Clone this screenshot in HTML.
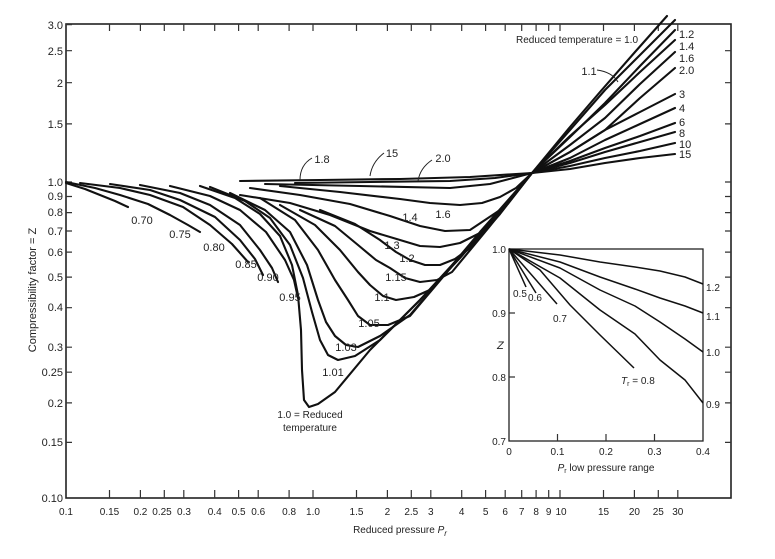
<!DOCTYPE html>
<html><head><meta charset="utf-8"><style>
html,body{margin:0;padding:0;background:#fff;}
svg{display:block;font-family:"Liberation Sans",sans-serif;}
text{fill:#222;}
</style></head><body>
<svg width="775" height="559" viewBox="0 0 775 559" xmlns="http://www.w3.org/2000/svg">
<g stroke="#222" fill="none">
<rect x="66" y="24" width="665" height="474" stroke-width="1.6"/>
<rect x="509" y="249" width="194" height="192" stroke-width="1.3"/>
</g>
<g stroke="#333" stroke-width="1.2">
<path d="M66 24.6h6M66 50.7h6M66 82.7h6M66 123.9h6M66 182h6M66 196.5h6M66 212.6h6M66 231h6M66 252.1h6M66 277.1h6M66 307.7h6M66 347.2h6M66 372.2h6M66 402.9h6M66 442.4h6"/>
<path d="M725 50.7h6M725 82.7h6M725 123.9h6M725 182h6M725 196.5h6M725 212.6h6M725 231h6M725 252.1h6M725 277.1h6M725 307.7h6M725 347.2h6M725 372.2h6M725 402.9h6M725 442.4h6"/>
<path d="M109.5 498v-8M140.4 498v-8M164.3 498v-8M183.8 498v-8M214.7 498v-8M238.6 498v-8M258.2 498v-8M289.1 498v-8M313 498v-8M356.5 498v-8M387.4 498v-8M411.3 498v-8M430.8 498v-8M461.7 498v-8M485.6 498v-8M505.2 498v-8M521.7 498v-8M536.1 498v-8M548.7 498v-8M560 498v-8M603.5 498v-8M634.4 498v-8M658.3 498v-8M677.8 498v-8"/>
<path d="M109.5 24v7M140.4 24v7M164.3 24v7M183.8 24v7M214.7 24v7M238.6 24v7M258.2 24v7M289.1 24v7M313 24v7M356.5 24v7M387.4 24v7M411.3 24v7M430.8 24v7M461.7 24v7M485.6 24v7M505.2 24v7M521.7 24v7M536.1 24v7M548.7 24v7M560 24v7M603.5 24v7M634.4 24v7M658.3 24v7M677.8 24v7"/>
<path d="M557.5 441v-7M606 441v-7M654.5 441v-7M509 313h6M509 377h6"/>
</g>
<g font-size="11" text-anchor="end">
<text x="63" y="29">3.0</text><text x="63" y="55">2.5</text><text x="63" y="87">2</text><text x="63" y="128">1.5</text><text x="63" y="186">1.0</text><text x="63" y="200">0.9</text><text x="63" y="216">0.8</text><text x="63" y="235">0.7</text><text x="63" y="256">0.6</text><text x="63" y="281">0.5</text><text x="63" y="311">0.4</text><text x="63" y="351">0.3</text><text x="63" y="376">0.25</text><text x="63" y="407">0.2</text><text x="63" y="446">0.15</text><text x="63" y="502">0.10</text>
</g>
<g font-size="10" text-anchor="middle">
<text x="66" y="515">0.1</text><text x="109.5" y="515">0.15</text><text x="140.4" y="515">0.2</text><text x="162" y="515">0.25</text><text x="184" y="515">0.3</text><text x="214.7" y="515">0.4</text><text x="238.6" y="515">0.5</text><text x="258.2" y="515">0.6</text><text x="289.1" y="515">0.8</text><text x="313" y="515">1.0</text><text x="356.5" y="515">1.5</text><text x="387.4" y="515">2</text><text x="411.3" y="515">2.5</text><text x="430.8" y="515">3</text><text x="461.7" y="515">4</text><text x="485.6" y="515">5</text><text x="505.2" y="515">6</text><text x="521.7" y="515">7</text><text x="536.1" y="515">8</text><text x="548.7" y="515">9</text><text x="561" y="515">10</text><text x="603.5" y="515">15</text><text x="634.4" y="515">20</text><text x="658.3" y="515">25</text><text x="677.8" y="515">30</text>
<text x="509" y="455">0</text><text x="557.5" y="455">0.1</text><text x="606" y="455">0.2</text><text x="654.5" y="455">0.3</text><text x="703" y="455">0.4</text>
</g>
<g font-size="10" text-anchor="end">
<text x="506" y="253">1.0</text><text x="506" y="317">0.9</text><text x="506" y="381">0.8</text><text x="506" y="445">0.7</text>
</g>
<g stroke="#111" stroke-width="2.1" fill="none" stroke-linecap="round" stroke-linejoin="round">
<polyline points="66,183 85,189 100,195 115,201 128,207"/>
<polyline points="66,182 95,188 120,195 148,204 170,215 188,225 200,232"/>
<polyline points="80,183 120,188 150,195 183,207 210,225 232,244 248,262"/>
<polyline points="110,184 150,190 180,200 215,217 240,240 255,259 263,275"/>
<polyline points="140,185 180,193 210,205 240,225 260,250 272,268 278,282"/>
<polyline points="170,186 210,196 240,210 266,232 285,260 294,280 298,298"/>
<polyline points="200,186 235,198 260,214 280,236 292,265 298,295 301,330 302,370 304,400 309,407 318,404 335,392 370,350 420,300 475,240 532,173 570,127 600,92 635,52 667,16"/>
<polyline points="210,187 245,201 270,218 290,245 303,278 312,312 320,340 328,355 338,360 355,356 380,340 420,300 460,258 500,212 532,173 570,130 605,90 640,55 675,20"/>
<polyline points="230,193 265,210 290,232 307,265 318,300 326,322 335,336 346,345 358,347 380,336 410,315 470,245 532,173"/>
<polyline points="260,198 295,220 318,250 335,280 348,300 358,316 370,325 388,325 410,316 470,245 532,173"/>
<polyline points="280,205 315,225 340,250 358,272 370,285 383,296 396,300 414,297 432,289 480,232 532,173 570,136 605,105 640,72 675,40"/>
<polyline points="300,210 335,226 358,245 376,260 390,268 405,278 420,282 437,280 452,272 490,226 532,173"/>
<polyline points="320,210 355,224 380,240 396,252 410,260 425,265 440,265 455,259 470,248 500,214 532,173 570,137 605,103 640,66 675,30"/>
<polyline points="240,195 290,203 330,215 370,231 400,240 420,246 440,247 460,243 480,233 505,207 532,173"/>
<polyline points="250,188 300,195 350,204 390,216 420,226 445,231 470,230 500,210 532,173 570,145 605,118 640,84 675,52"/>
<polyline points="280,186 340,192 400,199 430,203 460,205 482,203 500,197 516,188 532,173 570,152 605,130 640,98 675,68"/>
<polyline points="265,184 360,186 450,188 490,184 532,173 570,152 605,130 640,112 675,94"/>
<polyline points="240,181 320,180 400,179 470,177 532,173 570,158 605,140 640,124 675,108"/>
<polyline points="295,183 370,182 450,181 495,178 532,173 570,161 605,148 640,136 675,123"/>
<polyline points="532,173 570,163 605,152 640,142 675,132"/>
<polyline points="532,173 570,166 605,158 640,151 675,143"/>
<polyline points="532,173 570,169 605,163 640,158 675,154"/>
</g>
<g stroke="#111" stroke-width="1.5" fill="none" stroke-linejoin="round">
<polyline points="509,249 526,287"/>
<polyline points="509,249 536,293"/>
<polyline points="509,249 557,304"/>
<polyline points="509,249 540,270 570,305 600,335 634,368"/>
<polyline points="509,249 560,278 600,310 635,334 660,360 685,380 703,403"/>
<polyline points="509,249 560,268 600,290 635,306 660,322 685,339 703,352"/>
<polyline points="509,249 560,262 600,277 635,289 660,298 685,306 703,313"/>
<polyline points="509,249 560,255 600,262 635,267 660,271 685,277 703,284"/>
</g>
<g font-size="11">
<text x="142" y="224" text-anchor="middle">0.70</text>
<text x="180" y="238" text-anchor="middle">0.75</text>
<text x="214" y="251" text-anchor="middle">0.80</text>
<text x="246" y="268" text-anchor="middle">0.85</text>
<text x="268" y="281" text-anchor="middle">0.90</text>
<text x="290" y="301" text-anchor="middle">0.95</text>
<text x="310" y="418" text-anchor="middle" font-size="10">1.0 = Reduced</text>
<text x="310" y="431" text-anchor="middle" font-size="10">temperature</text>
<text x="333" y="376" text-anchor="middle">1.01</text>
<text x="346" y="351" text-anchor="middle">1.03</text>
<text x="369" y="327" text-anchor="middle">1.05</text>
<text x="382" y="301" text-anchor="middle">1.1</text>
<text x="396" y="281" text-anchor="middle">1.15</text>
<text x="407" y="262" text-anchor="middle">1.2</text>
<text x="392" y="249" text-anchor="middle">1.3</text>
<text x="410" y="221" text-anchor="middle">1.4</text>
<text x="443" y="218" text-anchor="middle">1.6</text>
<text x="322" y="163" text-anchor="middle">1.8</text>
<text x="392" y="157" text-anchor="middle">15</text>
<text x="443" y="162" text-anchor="middle">2.0</text>
<text x="577" y="43" text-anchor="middle" font-size="10">Reduced temperature = 1.0</text>
<text x="589" y="75" text-anchor="middle">1.1</text>
<path d="M300 180 Q300 165 312 158 M370 176 Q372 162 384 153 M418 181 Q420 168 432 160 M597 70 Q612 72 618 82" stroke="#222" fill="none" stroke-width="1"/>
<text x="679" y="38">1.2</text>
<text x="679" y="50">1.4</text>
<text x="679" y="62">1.6</text>
<text x="679" y="74">2.0</text>
<text x="679" y="98">3</text>
<text x="679" y="112">4</text>
<text x="679" y="126">6</text>
<text x="679" y="137">8</text>
<text x="679" y="148">10</text>
<text x="679" y="158">15</text>
<text x="400" y="533" text-anchor="middle" font-size="10">Reduced pressure <tspan font-style="italic">P</tspan><tspan font-size="8" dy="3" font-style="italic">r</tspan></text>
<text transform="translate(36,290) rotate(-90)" text-anchor="middle" font-size="11">Compressibility factor = Z</text>
<text x="497" y="349" font-style="italic">Z</text>
<text x="606" y="471" text-anchor="middle" font-size="10"><tspan font-style="italic">P</tspan><tspan font-size="7" dy="2">r</tspan><tspan dy="-2"> low pressure range</tspan></text>
<text x="513" y="297" font-size="10">0.5</text>
<text x="528" y="301" font-size="10">0.6</text>
<text x="553" y="322" font-size="10">0.7</text>
<text x="621" y="384" font-size="10"><tspan font-style="italic">T</tspan><tspan font-size="7" dy="2">r</tspan><tspan dy="-2"> = 0.8</tspan></text>
<text x="706" y="291" font-size="10">1.2</text>
<text x="706" y="320" font-size="10">1.1</text>
<text x="706" y="356" font-size="10">1.0</text>
<text x="706" y="408" font-size="10">0.9</text>
</g>
</svg>
</body></html>
